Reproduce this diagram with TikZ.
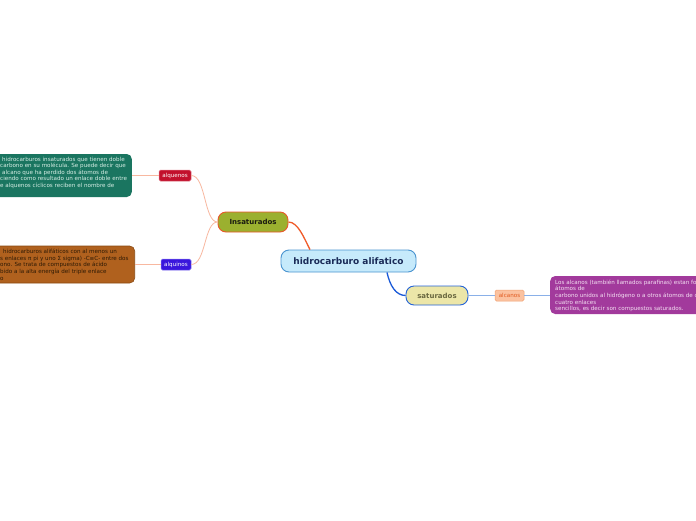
\documentclass[tikz,border=0pt]{standalone}
\usepackage{fontspec}
\setmainfont{DejaVu Sans}
\usetikzlibrary{calc}
\definecolor{cenfill}{HTML}{C6EAFB}
\definecolor{cenline}{HTML}{4A94D0}
\definecolor{centext}{HTML}{1A2B58}
\definecolor{insfill}{HTML}{9BB02F}
\definecolor{insline}{HTML}{E8582A}
\definecolor{instext}{HTML}{1A1A10}
\definecolor{satfill}{HTML}{ECE6A8}
\definecolor{satline}{HTML}{2262D8}
\definecolor{sattext}{HTML}{6A6840}
\definecolor{alqefill}{HTML}{C2102C}
\definecolor{alqeline}{HTML}{E07080}
\definecolor{alqifill}{HTML}{3A16DC}
\definecolor{alqiline}{HTML}{8070F0}
\definecolor{alcfill}{HTML}{FBC2A0}
\definecolor{alcline}{HTML}{F0A070}
\definecolor{alctext}{HTML}{E05A20}
\definecolor{gfill}{HTML}{1A7560}
\definecolor{gtextc}{HTML}{D8EFE6}
\definecolor{bfill}{HTML}{B0611E}
\definecolor{bline}{HTML}{8A4A12}
\definecolor{btextc}{HTML}{2E1A05}
\definecolor{pfill}{HTML}{A23A9C}
\definecolor{ptextc}{HTML}{F4E0F2}
\definecolor{orangeln}{HTML}{F05A28}
\definecolor{blueln}{HTML}{1A5AD8}
\definecolor{salmonln}{HTML}{F8B8A0}
\definecolor{lblueln}{HTML}{8AB0E8}
\begin{document}
\begin{tikzpicture}[x=1pt,y=-1pt,
  topic/.style={draw, rounded corners=8pt, line width=0.9pt, inner sep=0pt},
  tag/.style={draw, rounded corners=1.5pt, line width=0.5pt, inner sep=0pt, text=white, font=\fontsize{5.6}{6}\selectfont},
  bigbox/.style={rounded corners=5pt, inner sep=0pt},
  para/.style={inner sep=0pt, align=left, font=\fontsize{5.6}{6.6}\selectfont},
  thin/.style={line width=0.8pt, salmonln},
]
\useasboundingbox (0,0) rectangle (696,520);
\clip (0,0) rectangle (696,520);
\fill[white] (0,0) rectangle (696,520);

% big text boxes
\node[bigbox, fill=gfill, minimum width=160pt, minimum height=43pt, anchor=east] (gbox) at (132,175.5) {};
\node[bigbox, fill=bfill, draw=bline, line width=0.6pt, minimum width=160pt, minimum height=37pt, anchor=east] (bbox) at (135,264.5) {};
\node[bigbox, fill=pfill, minimum width=180pt, minimum height=38pt, anchor=west] (pbox) at (550,295) {};

\node[para, text=gtextc, anchor=west] (gtext) at (0,172.8) {\hspace{2pt}hidrocarburos insaturados que tienen doble\\
carbono en su molécula. Se puede decir que\\
\hspace{2pt}alcano que ha perdido dos átomos de\\
ciendo como resultado un enlace doble entre\\
e alquenos cíclicos reciben el nombre de};

\node[para, text=btextc, anchor=west] (btext) at (0,264.6) {\hspace{3pt}hidrocarburos alifáticos con al menos un\\
s enlaces π pi y uno Σ sigma) -C≡C- entre dos\\
ono. Se trata de compuestos de ácido\\
bido a la alta energía del triple enlace\\
o};

\node[para, text=ptextc, anchor=west] (ptext) at (555,295.8) {Los alcanos (también llamados parafinas) estan for\\
átomos de\\
carbono unidos al hidrógeno o a otros átomos de c\\
cuatro enlaces\\
sencillos, es decir son compuestos saturados.};

% main nodes
\node[topic, fill=cenfill, draw=cenline, text=centext, minimum width=135pt, minimum height=22pt,
  font=\fontsize{9}{10}\selectfont\bfseries] (center) at (348.5,261) {hidrocarburo alifatico};
\node[topic, fill=insfill, draw=insline, text=instext, minimum width=70pt, minimum height=20pt,
  font=\fontsize{7}{8}\selectfont\bfseries] (ins) at (253,222) {Insaturados};
\node[topic, fill=satfill, draw=satline, text=sattext, minimum width=62pt, minimum height=19pt,
  font=\fontsize{7}{8}\selectfont\bfseries] (sat) at (437,295.5) {saturados};

\node[tag, fill=alqefill, draw=alqeline, minimum width=32pt, minimum height=11pt] (alqe) at (175,175.5) {alquenos};
\node[tag, fill=alqifill, draw=alqiline, minimum width=30pt, minimum height=11pt] (alqi) at (176,264.5) {alquinos};
\node[tag, fill=alcfill, draw=alcline, text=alctext, minimum width=29pt, minimum height=11pt] (alc) at (509.5,295.5) {alcanos};

% connectors
\draw[line width=1.3pt, orangeln] (ins.east) .. controls (298,222) and (304,238) .. ([xshift=-38.5pt]center.north);
\draw[line width=1.3pt, blueln] ([xshift=38.5pt]center.south) .. controls (390,286) and (396,295.5) .. (sat.west);
\draw[thin] (ins.west) .. controls (204,222) and (206,175.5) .. (alqe.east);
\draw[thin] (ins.west) .. controls (204,222) and (206,264.5) .. (alqi.east);
\draw[thin] (alqe.west) -- (gbox.east |- alqe.west);
\draw[thin] (alqi.west) -- (bbox.east |- alqi.west);
\draw[line width=0.8pt, lblueln] (sat.east) -- (alc.west);
\draw[line width=0.8pt, lblueln] (alc.east) -- (pbox.west |- alc.east);
\end{tikzpicture}
\end{document}
